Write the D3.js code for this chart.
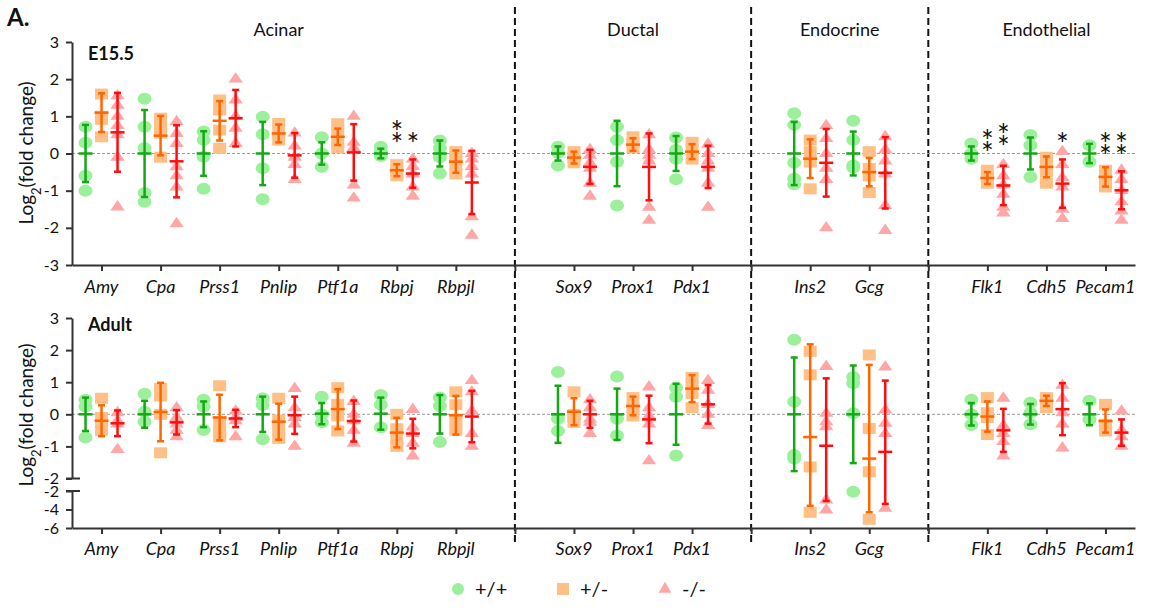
<!DOCTYPE html>
<html>
<head>
<meta charset="utf-8">
<script src="https://cdn.jsdelivr.net/npm/d3@7"></script>
<style>
  body { margin: 0; background: #fff; }
  text { font-family: Lato, "Open Sans", sans-serif; fill: #111; }
</style>
</head>
<body>
<div id="chart"></div>
<script>
// categories ("s*" = dashed separator slot)
const slots = ["Amy", "Cpa", "Prss1", "Pnlip", "Ptf1a", "Rbpj", "Rbpjl", "s1",
  "Sox9", "Prox1", "Pdx1", "s2", "Ins2", "Gcg", "s3", "Flk1", "Cdh5", "Pecam1"];
const genes = slots.filter(d => d[0] !== "s");
const separators = ["s1", "s2", "s3"];
const groupNames = ["Acinar", "Ductal", "Endocrine", "Endothelial"];
const groupFirst = ["Amy", "Sox9", "Ins2", "Flk1"];
const groupLast = ["Rbpjl", "Pdx1", "Gcg", "Pecam1"];
const genotypes = ["+/+", "+/-", "-/-"];

// E15.5 panel
const e15WtMean = [0, 0, 0, 0, 0, 0, 0, 0, 0, 0, 0, 0, 0, 0, 0];
const e15WtSd = [0.77, 1.17, 0.6, 0.85, 0.3, 0.13, 0.35, 0.19, 0.88, 0.47, 0.85, 0.59, 0.19, 0.43, 0.26];
const e15WtPts = [[0.72, 0.29, -0.6, -1.0], [1.47, 0.72, 0.15, -1.06, -1.3], [0.59, 0.36, -0.09, -0.95],
  [0.99, 0.52, -0.4, -1.23], [0.44, 0, -0.36], [0.18, 0.05, -0.07], [0.35, 0.15, -0.1, -0.54],
  [0.18, 0.02, -0.32], [0.72, 0.36, -0.22, -1.4], [0.43, 0.1, -0.14, -0.69],
  [1.08, 0.77, -0.25, -0.68, -0.83], [0.88, 0.36, -0.32, -0.38], [0.27, 0.0, -0.14],
  [0.5, 0.22, -0.63], [0.22, -0.22]];
const e15HetMean = [1.1, 0.48, 0.88, 0.54, 0.45, -0.45, -0.22, -0.11, 0.24, 0.05, -0.14, -0.5, -0.66, -0.36, -0.63];
const e15HetSd = [0.52, 0.53, 0.53, 0.24, 0.22, 0.16, 0.3, 0.16, 0.17, 0.2, 0.52, 0.38, 0.16, 0.28, 0.26];
const e15HetPts = [[1.6, 1.0, 0.92, 0.45], [0.95, 0.75, 0.55, -0.1], [1.44, 1.17, 0.63, 0.14],
  [0.81, 0.54, 0.36], [0.8, 0.55, 0.3, 0.15], [-0.3, -0.5, -0.6], [0.05, -0.1, -0.3, -0.55],
  [0.05, -0.1, -0.25], [0.45, 0.3, 0.15], [0.3, 0.1, -0.15], [0.36, 0.05, -0.23, -0.95],
  [0.05, -0.4, -0.6, -1.05], [-0.45, -0.65, -0.8], [-0.1, -0.3, -0.5, -0.8], [-0.45, -0.65, -0.9]];
const e15KoMean = [0.57, -0.21, 0.95, -0.05, 0.03, -0.54, -0.78, -0.36, -0.36, -0.36, -0.25, -0.52, -0.86, -0.81, -0.99];
const e15KoSd = [1.06, 0.97, 0.76, 0.6, 0.76, 0.38, 0.85, 0.46, 0.9, 0.57, 0.91, 0.96, 0.53, 0.65, 0.51];
const e15KoPts = [[1.55, 1.3, 1.0, 0.75, 0.5, -0.1, -1.44], [0.86, 0.54, 0.27, -0.36, -0.6, -0.9, -1.89],
  [2.0, 1.44, 1.0, 0.68, 0.27], [0.55, 0.2, -0.1, -0.3, -0.7], [1.0, 0.3, 0.15, -0.85, -1.2],
  [-0.15, -0.35, -0.55, -0.9, -1.15], [0.0, -0.15, -0.35, -0.55, -1.7, -2.2],
  [0.1, -0.05, -0.25, -0.4, -0.8, -1.15], [0.5, 0.1, -0.05, -0.2, -1.45, -1.8],
  [0.25, 0.0, -0.2, -0.4, -0.8, -1.45], [0.75, 0.4, 0.0, -0.4, -0.7, -2.0],
  [0.45, 0.1, -0.2, -0.55, -1.4, -2.07], [-0.3, -0.6, -0.85, -1.1, -1.45, -1.6],
  [0.05, -0.3, -0.65, -0.9, -1.5, -1.75], [-0.45, -0.7, -1.0, -1.3, -1.55, -1.8]];

// significance stars (E15.5): gene, genotype index, count, level of lowest star
const starGene = ["Rbpj", "Rbpj", "Flk1", "Flk1", "Cdh5", "Pecam1", "Pecam1"];
const starGeno = [1, 2, 1, 2, 2, 1, 2];
const starCount = [2, 1, 2, 2, 1, 2, 2];
const starLevel = [0.4, 0.4, 0.14, 0.3, 0.4, 0.08, 0.08];

// Adult panel
const adWtMean = [0, 0, 0, 0, 0.02, 0.02, 0, 0, 0, 0, 0, 0, 0, 0, 0];
const adWtSd = [0.52, 0.42, 0.4, 0.55, 0.33, 0.5, 0.6, 0.89, 0.8, 0.95, 1.77, 1.52, 0.35, 0.32, 0.34];
const adWtPts = [[0.45, 0.24, -0.72], [0.64, 0.08, -0.23], [0.45, 0.24, -0.49], [0.5, 0.29, -0.78],
  [0.55, 0.0, -0.25], [0.6, 0.3, -0.4], [0.52, 0.26, -0.86], [1.32, -0.14, -0.52],
  [1.18, -0.14, -0.66], [0.83, 0.55, -1.28], [2.32, 0.39, -1.27, -1.38], [1.16, 0.97, 0.03, -2.07],
  [0.45, 0.0, -0.33], [0.36, 0.05, -0.31], [0.42, -0.16]];
const adHetMean = [-0.2, 0.07, -0.1, -0.23, 0.16, -0.57, -0.03, 0.08, 0.26, 0.8, -0.71, -1.38, -0.07, 0.42, -0.21];
const adHetSd = [0.48, 0.91, 0.71, 0.56, 0.62, 0.46, 0.6, 0.42, 0.29, 0.42, 2.89, 2.92, 0.47, 0.16, 0.36];
const adHetPts = [[0.5, -0.1, -0.3, -0.5], [0.81, 0.57, 0.0, -1.2], [0.89, -0.23, -0.54, -0.7],
  [0.5, -0.18, -0.49, -0.75], [0.83, 0.31, -0.05, -0.52], [0.0, -0.45, -0.75, -1.0],
  [0.7, 0.3, -0.2, -0.5], [0.7, 0.0, -0.1, -0.25], [0.52, 0.21, -0.05], [1.15, 0.94, 0.65, 0.21],
  [1.96, 1.23, -1.64, -4.3], [1.85, -0.44, -1.79, -5.06], [0.52, 0.05, -0.1, -0.63],
  [0.52, 0.35, 0.21], [0.31, -0.31, -0.52]];
const adKoMean = [-0.28, -0.25, -0.13, -0.03, -0.21, -0.6, -0.07, 0, -0.16, 0.31, -0.98, -1.17, -0.5, 0.16, -0.57];
const adKoSd = [0.4, 0.38, 0.27, 0.58, 0.64, 0.46, 0.8, 0.42, 0.74, 0.6, 2.1, 2.22, 0.67, 0.81, 0.41];
const adKoPts = [[0.05, -0.2, -0.3, -1.1], [0.2, -0.1, -0.3, -0.5, -0.7], [0.1, -0.1, -0.2, -0.7],
  [0.8, 0.2, -0.1, -0.3, -1.0], [0.4, 0.0, -0.2, -0.5, -0.9], [0.15, -0.4, -0.6, -0.9, -1.3],
  [1.05, 0.7, 0.1, -0.6, -1.0], [0.45, 0.2, -0.15, -0.25, -0.6], [0.85, 0.2, -0.05, -0.3, -1.45],
  [1.05, 0.75, 0.3, 0.0, -0.35], [1.49, 0.03, -0.23, -0.39, -2.97, -4.05],
  [1.47, 0.13, -0.28, -0.6, -3.87], [0.5, -0.35, -0.6, -0.85, -1.3], [0.9, 0.5, 0.05, -0.3, -1.05],
  [0.1, -0.5, -0.7, -1.0]];

const topTicks = [-3, -2, -1, 0, 1, 2, 3];
const botUpTicks = [-2, -1, 0, 1, 2, 3];
const botLowTicks = [-6, -4, -2];

// ---- layout
const w = 1165, h = 608;
const fills = ["#9cf09c", "#ffc088", "#ffa6a6"];
const strokes = ["#14a814", "#ff6600", "#ff0d0d"];
const fmt = d => String(d);

const svg = d3.select("#chart").append("svg").attr("width", w).attr("height", h);

const x = d3.scalePoint().domain(slots).range([72, 1135]).padding(0.5);
const dx = d3.scalePoint().domain(genotypes).range([-16, 16]);

const yTop = d3.scaleLinear().domain([-3, 3]).range([265, 42]);
const yUp = d3.scaleLinear().domain([-2, 3]).range([478.5, 318]);
const yLow = d3.scaleLinear().domain([-6, -2]).range([528, 491]);
const yBot = v => (v >= -2 ? yUp(v) : yLow(v));

// dashed separators across both panels
svg.append("g").selectAll("line").data(separators).join("line")
  .attr("x1", d => x(d)).attr("x2", d => x(d))
  .attr("y1", 7).attr("y2", 543)
  .attr("stroke", "#111").attr("stroke-width", 2).attr("stroke-dasharray", "7,4");

// group titles
svg.append("g").selectAll("text").data(groupNames).join("text")
  .attr("x", (d, i) => (x(groupFirst[i]) + x(groupLast[i])) / 2)
  .attr("y", 36).attr("text-anchor", "middle").style("font-size", "18px")
  .text(d => d);

svg.append("text").attr("x", 7).attr("y", 26)
  .style("font-size", "24px").style("font-weight", "bold").text("A.");

function styleAxis(g) {
  g.selectAll("path,line").attr("stroke", "#333").attr("stroke-width", 2);
  g.selectAll("text").style("font-size", "16px").style("font-family", "Lato, sans-serif").attr("fill", "#111");
}

function drawPanel(y, axisBase, label, labelY, titleY, means, sds, pts) {
  const g = svg.append("g");

  // zero line
  g.append("line").attr("x1", 72).attr("x2", 1135)
    .attr("y1", y(0)).attr("y2", y(0))
    .attr("stroke", "#999").attr("stroke-width", 1).attr("stroke-dasharray", "3,2");

  // x axis
  g.append("g").attr("transform", `translate(0,${axisBase})`)
    .call(d3.axisBottom(x).tickSize(6).tickSizeOuter(0).tickFormat(""))
    .call(styleAxis);

  g.append("g").selectAll("text").data(genes).join("text")
    .attr("x", d => x(d)).attr("y", labelY)
    .attr("text-anchor", "middle")
    .style("font-size", "18px").style("font-style", "italic")
    .text(d => d);

  // y title
  const t = g.append("text")
    .attr("transform", `translate(33,${titleY}) rotate(-90)`)
    .attr("text-anchor", "middle").style("font-size", "19px");
  t.append("tspan").text("Log");
  t.append("tspan").attr("baseline-shift", "sub").style("font-size", "13px").text("2");
  t.append("tspan").text("(fold change)");

  g.append("text").attr("x", 88).attr("y", label === "E15.5" ? 60 : 331)
    .style("font-size", "18px").style("font-weight", "bold").text(label);

  // markers
  genotypes.forEach((gt, k) => {
    const flat = [];
    genes.forEach((gene, i) => pts[k][i].forEach(v => flat.push({ gene, v })));
    const mg = g.append("g");
    const cx = d => x(d.gene) + dx(gt);
    if (k === 0) {
      mg.selectAll("ellipse").data(flat).join("ellipse")
        .attr("cx", cx).attr("cy", d => y(d.v)).attr("rx", 7).attr("ry", 6)
        .attr("fill", fills[k]);
    } else if (k === 1) {
      mg.selectAll("rect").data(flat).join("rect")
        .attr("x", d => cx(d) - 6.5).attr("y", d => y(d.v) - 5.5)
        .attr("width", 13).attr("height", 11).attr("fill", fills[k]);
    } else {
      mg.selectAll("path").data(flat).join("path")
        .attr("transform", d => `translate(${cx(d)},${y(d.v)}) scale(1.2,1)`)
        .attr("d", d3.symbol().type(d3.symbolTriangle).size(62))
        .attr("fill", fills[k]);
    }
  });

  // error bars (mean +/- sd)
  genotypes.forEach((gt, k) => {
    const rows = genes.map((gene, i) => ({ gene, m: means[k][i], s: sds[k][i] }));
    const eg = g.append("g").attr("stroke", strokes[k]).attr("stroke-width", 2.5);
    const cx = d => x(d.gene) + dx(gt);
    eg.selectAll(".v").data(rows).join("line").attr("class", "v")
      .attr("x1", cx).attr("x2", cx)
      .attr("y1", d => y(d.m + d.s)).attr("y2", d => y(d.m - d.s));
    eg.selectAll(".c1").data(rows).join("line").attr("class", "c1")
      .attr("x1", d => cx(d) - 3.5).attr("x2", d => cx(d) + 3.5)
      .attr("y1", d => y(d.m + d.s)).attr("y2", d => y(d.m + d.s));
    eg.selectAll(".c2").data(rows).join("line").attr("class", "c2")
      .attr("x1", d => cx(d) - 3.5).attr("x2", d => cx(d) + 3.5)
      .attr("y1", d => y(d.m - d.s)).attr("y2", d => y(d.m - d.s));
    eg.selectAll(".m").data(rows).join("line").attr("class", "m")
      .attr("x1", d => cx(d) - 7).attr("x2", d => cx(d) + 7)
      .attr("y1", d => y(d.m)).attr("y2", d => y(d.m));
  });
  return g;
}

// top panel
drawPanel(yTop, 265, "E15.5", 293, 153,
  [e15WtMean, e15HetMean, e15KoMean], [e15WtSd, e15HetSd, e15KoSd], [e15WtPts, e15HetPts, e15KoPts]);
svg.append("g").attr("transform", "translate(72,0)")
  .call(d3.axisLeft(yTop).tickValues(topTicks).tickFormat(fmt).tickSize(6).tickSizeOuter(0).tickPadding(7))
  .call(styleAxis);

// stars: one text per stack, one tspan per star
const starG = svg.append("g").selectAll("text").data(starGene).join("text")
  .attr("text-anchor", "middle").style("font-size", "30px");
starG.each(function (gene, i) {
  const cx = x(gene) + dx(genotypes[starGeno[i]]);
  const base = yTop(starLevel[i]) + 16;
  for (let j = 0; j < starCount[i]; j++) {
    d3.select(this).append("tspan").attr("x", cx).attr("y", base - j * 12).text("*");
  }
});

// bottom panel
drawPanel(yBot, 528, "Adult", 555, 415,
  [adWtMean, adHetMean, adKoMean], [adWtSd, adHetSd, adKoSd], [adWtPts, adHetPts, adKoPts]);
svg.append("g").attr("transform", "translate(72,0)")
  .call(d3.axisLeft(yUp).tickValues(botUpTicks).tickFormat(fmt).tickSize(6).tickSizeOuter(0).tickPadding(7))
  .call(styleAxis);
svg.append("g").attr("transform", "translate(72,0)")
  .call(d3.axisLeft(yLow).tickValues(botLowTicks).tickFormat(fmt).tickSize(6).tickSizeOuter(0).tickPadding(7))
  .call(styleAxis);
// axis break marks
svg.append("g").selectAll("line").data([yUp(-2), yLow(-2)]).join("line")
  .attr("x1", 66).attr("x2", 80).attr("y1", d => d).attr("y2", d => d)
  .attr("stroke", "#333").attr("stroke-width", 2);

// legend
const lg = svg.append("g").attr("transform", "translate(0,589)");
const legX = [458, 563, 665];
lg.append("ellipse").attr("cx", legX[0]).attr("cy", 0).attr("rx", 6).attr("ry", 6).attr("fill", fills[0]);
lg.append("rect").attr("x", legX[1] - 6).attr("y", -6).attr("width", 12).attr("height", 12).attr("fill", fills[1]);
lg.append("path").attr("transform", `translate(${legX[2]},0)`)
  .attr("d", d3.symbol().type(d3.symbolTriangle).size(70)).attr("fill", fills[2]);
lg.selectAll("text").data(genotypes).join("text")
  .attr("x", (d, i) => legX[i] + 17).attr("y", 7)
  .style("font-size", "20px").text(d => d);
</script>
</body>
</html>
